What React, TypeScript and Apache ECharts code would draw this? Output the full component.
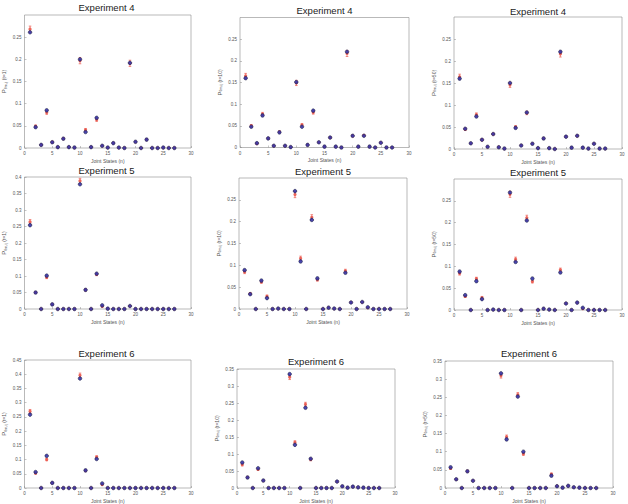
import React, { useEffect, useRef } from 'react';
import * as echarts from 'echarts';

// Joint states n = 1..27
const states = [1, 2, 3, 4, 5, 6, 7, 8, 9, 10, 11, 12, 13, 14, 15, 16, 17, 18, 19, 20, 21, 22, 23, 24, 25, 26, 27];

// Experiment 4, t=1
const e4t1Blue = [0.261, 0.047, 0.007, 0.085, 0.013, 0.002, 0.021, 0.002, 0.001, 0.200, 0.036, 0.002, 0.068, 0.005, 0.001, 0.011, 0.001, 0.000, 0.192, 0.014, 0.000, 0.019, 0.000, 0.000, 0.001, 0.000, 0.000];
const e4t1Red = [0.268, 0.049, 0.007, 0.080, 0.013, 0.002, 0.021, 0.002, 0.001, 0.197, 0.041, 0.002, 0.064, 0.005, 0.001, 0.011, 0.001, 0.000, 0.191, 0.014, 0.000, 0.019, 0.000, 0.000, 0.001, 0.000, 0.000];
const e4t1Err = [0.007, 0.003, 0.001, 0.004, 0.002, 0, 0.002, 0, 0, 0.007, 0.003, 0, 0.004, 0.001, 0, 0.001, 0, 0, 0.007, 0.001, 0, 0.002, 0, 0, 0, 0, 0];

// Experiment 4, t=10
const e4t10Blue = [0.160, 0.048, 0.010, 0.074, 0.021, 0.004, 0.035, 0.004, 0.001, 0.151, 0.048, 0.006, 0.085, 0.012, 0.002, 0.023, 0.002, 0.000, 0.221, 0.027, 0.002, 0.027, 0.002, 0.000, 0.011, 0.000, 0.000];
const e4t10Red = [0.165, 0.050, 0.009, 0.077, 0.021, 0.004, 0.036, 0.004, 0.001, 0.149, 0.052, 0.006, 0.081, 0.012, 0.002, 0.023, 0.002, 0.000, 0.217, 0.027, 0.002, 0.028, 0.002, 0.000, 0.011, 0.000, 0.000];
const e4t10Err = [0.006, 0.003, 0.002, 0.004, 0.002, 0, 0.002, 0, 0, 0.006, 0.003, 0, 0.004, 0.001, 0, 0.002, 0, 0, 0.007, 0.002, 0, 0.002, 0, 0, 0.001, 0, 0];

// Experiment 4, t=50
const e4t50Blue = [0.160, 0.046, 0.013, 0.074, 0.021, 0.005, 0.034, 0.004, 0.001, 0.150, 0.048, 0.008, 0.083, 0.012, 0.002, 0.024, 0.002, 0.000, 0.221, 0.028, 0.003, 0.030, 0.003, 0.001, 0.012, 0.001, 0.001];
const e4t50Red = [0.164, 0.045, 0.013, 0.078, 0.021, 0.005, 0.034, 0.004, 0.001, 0.146, 0.050, 0.008, 0.082, 0.012, 0.002, 0.024, 0.002, 0.000, 0.216, 0.028, 0.003, 0.030, 0.003, 0.001, 0.012, 0.001, 0.001];
const e4t50Err = [0.006, 0.003, 0.001, 0.004, 0.002, 0, 0.002, 0, 0, 0.006, 0.003, 0, 0.004, 0.001, 0, 0.002, 0, 0, 0.007, 0.002, 0, 0.002, 0, 0, 0.001, 0, 0];

// Experiment 5, t=1
const e5t1Blue = [0.254, 0.050, 0.000, 0.101, 0.014, 0.000, 0.000, 0.000, 0.000, 0.378, 0.058, 0.000, 0.107, 0.011, 0.001, 0.000, 0.000, 0.000, 0.009, 0.000, 0.000, 0.000, 0.000, 0.000, 0.000, 0.000, 0.000];
const e5t1Red = [0.264, 0.050, 0.000, 0.096, 0.014, 0.000, 0.000, 0.000, 0.000, 0.388, 0.058, 0.000, 0.105, 0.008, 0.001, 0.000, 0.000, 0.000, 0.009, 0.000, 0.000, 0.000, 0.000, 0.000, 0.000, 0.000, 0.000];
const e5t1Err = [0.007, 0.003, 0, 0.004, 0.001, 0, 0, 0, 0, 0.008, 0.003, 0, 0.004, 0.002, 0, 0, 0, 0, 0.001, 0, 0, 0, 0, 0, 0, 0, 0];

// Experiment 5, t=10
const e5t10Blue = [0.089, 0.034, 0.000, 0.065, 0.025, 0.000, 0.001, 0.000, 0.000, 0.270, 0.109, 0.000, 0.204, 0.070, 0.000, 0.003, 0.001, 0.000, 0.083, 0.015, 0.000, 0.016, 0.004, 0.000, 0.000, 0.000, 0.000];
const e5t10Red = [0.085, 0.035, 0.000, 0.062, 0.029, 0.000, 0.001, 0.000, 0.000, 0.262, 0.116, 0.000, 0.210, 0.067, 0.000, 0.003, 0.001, 0.000, 0.087, 0.015, 0.000, 0.016, 0.003, 0.000, 0.000, 0.000, 0.000];
const e5t10Err = [0.004, 0.002, 0, 0.003, 0.003, 0, 0, 0, 0, 0.007, 0.005, 0, 0.006, 0.003, 0, 0, 0, 0, 0.004, 0.001, 0, 0.001, 0.001, 0, 0, 0, 0];

// Experiment 5, t=50
const e5t50Blue = [0.088, 0.034, 0.000, 0.066, 0.025, 0.000, 0.001, 0.000, 0.000, 0.269, 0.110, 0.000, 0.205, 0.072, 0.000, 0.003, 0.001, 0.000, 0.086, 0.015, 0.000, 0.017, 0.005, 0.000, 0.000, 0.000, 0.000];
const e5t50Red = [0.084, 0.031, 0.000, 0.072, 0.028, 0.000, 0.001, 0.000, 0.000, 0.265, 0.116, 0.000, 0.211, 0.065, 0.000, 0.003, 0.001, 0.000, 0.092, 0.015, 0.000, 0.017, 0.003, 0.000, 0.000, 0.000, 0.000];
const e5t50Err = [0.004, 0.002, 0, 0.003, 0.003, 0, 0, 0, 0, 0.007, 0.005, 0, 0.006, 0.003, 0, 0, 0, 0, 0.004, 0.001, 0, 0.001, 0.001, 0, 0, 0, 0];

// Experiment 6, t=1
const e6t1Blue = [0.258, 0.056, 0.000, 0.113, 0.018, 0.000, 0.000, 0.000, 0.000, 0.385, 0.062, 0.000, 0.102, 0.016, 0.000, 0.000, 0.000, 0.000, 0.000, 0.000, 0.000, 0.000, 0.000, 0.000, 0.000, 0.000, 0.000];
const e6t1Red = [0.269, 0.052, 0.000, 0.100, 0.018, 0.000, 0.000, 0.000, 0.000, 0.396, 0.061, 0.000, 0.109, 0.012, 0.000, 0.000, 0.000, 0.000, 0.000, 0.000, 0.000, 0.000, 0.000, 0.000, 0.000, 0.000, 0.000];
const e6t1Err = [0.007, 0.003, 0, 0.004, 0.001, 0, 0, 0, 0, 0.008, 0.003, 0, 0.004, 0.002, 0, 0, 0, 0, 0, 0, 0, 0, 0, 0, 0, 0, 0];

// Experiment 6, t=10
const e6t10Blue = [0.075, 0.031, 0.000, 0.058, 0.022, 0.000, 0.000, 0.000, 0.000, 0.335, 0.127, 0.000, 0.236, 0.086, 0.000, 0.000, 0.000, 0.000, 0.019, 0.005, 0.001, 0.004, 0.002, 0.001, 0.000, 0.000, 0.000];
const e6t10Red = [0.069, 0.031, 0.000, 0.055, 0.022, 0.000, 0.000, 0.000, 0.000, 0.326, 0.134, 0.000, 0.246, 0.084, 0.000, 0.000, 0.000, 0.000, 0.019, 0.005, 0.001, 0.004, 0.002, 0.001, 0.000, 0.000, 0.000];
const e6t10Err = [0.004, 0.002, 0, 0.003, 0.001, 0, 0, 0, 0, 0.007, 0.005, 0, 0.006, 0.004, 0, 0, 0, 0, 0.002, 0, 0, 0, 0, 0, 0, 0, 0];

// Experiment 6, t=50
const e6t50Blue = [0.057, 0.024, 0.000, 0.046, 0.020, 0.000, 0.000, 0.000, 0.000, 0.316, 0.134, 0.000, 0.252, 0.100, 0.000, 0.000, 0.000, 0.000, 0.034, 0.005, 0.001, 0.006, 0.002, 0.001, 0.000, 0.000, 0.000];
const e6t50Red = [0.054, 0.024, 0.000, 0.046, 0.020, 0.000, 0.000, 0.000, 0.000, 0.310, 0.141, 0.000, 0.257, 0.094, 0.000, 0.000, 0.000, 0.000, 0.038, 0.005, 0.001, 0.006, 0.002, 0.001, 0.000, 0.000, 0.000];
const e6t50Err = [0.003, 0.002, 0, 0.003, 0.001, 0, 0, 0, 0, 0.007, 0.005, 0, 0.006, 0.004, 0, 0, 0, 0, 0.003, 0, 0, 0, 0, 0, 0, 0, 0];

const titles = ['Experiment 4', 'Experiment 4', 'Experiment 4', 'Experiment 5', 'Experiment 5', 'Experiment 5', 'Experiment 6', 'Experiment 6', 'Experiment 6'];
const timeLabels = ['t=1', 't=10', 't=50', 't=1', 't=10', 't=50', 't=1', 't=10', 't=50'];
const yMaxes = [0.3, 0.3, 0.3, 0.4, 0.3, 0.3, 0.45, 0.35, 0.35];
const showTopLabel = [false, false, false, true, false, false, true, true, true];
const xLabel = 'Joint States (n)';

const blueSets = [e4t1Blue, e4t10Blue, e4t50Blue, e5t1Blue, e5t10Blue, e5t50Blue, e6t1Blue, e6t10Blue, e6t50Blue];
const redSets = [e4t1Red, e4t10Red, e4t50Red, e5t1Red, e5t10Red, e5t50Red, e6t1Red, e6t10Red, e6t50Red];
const errSets = [e4t1Err, e4t10Err, e4t50Err, e5t1Err, e5t10Err, e5t50Err, e6t1Err, e6t10Err, e6t50Err];

// layout: [left, top, width, height, titleCenterY]
const layout = [
  [22, 15, 169, 133, 8],
  [240, 17.5, 169, 130, 11],
  [454, 17, 168, 132, 12],
  [22, 177, 169, 132, 171],
  [239, 178, 168, 131, 172],
  [454, 179, 168, 131, 173],
  [22, 360, 169, 133, 354],
  [237, 369, 158, 124, 362],
  [445, 361, 168, 132, 354],
];

const RED = '#ec5a4f';
const BLUE = '#3434a8';
const AX = '#8a8a8a';
const TXT = '#555';

export default function App() {
  const ref = useRef<HTMLDivElement>(null);
  useEffect(() => {
    document.body.style.margin = '0';
    if (!ref.current) return;
    const chart = echarts.init(ref.current, undefined, { renderer: 'svg' });

    const grids: any[] = [];
    const xAxes: any[] = [];
    const yAxes: any[] = [];
    const series: any[] = [];
    const title: any[] = [];

    layout.forEach((l, i) => {
      const [left, top, width, height, ty] = l;
      grids.push({ left, top, width, height, show: true, borderColor: AX, borderWidth: 0.6, backgroundColor: '#fff' });
      title.push({
        text: titles[i], left: left + width / 2, top: ty - 5.5, textAlign: 'center',
        textStyle: { fontSize: 9.5, fontWeight: 'normal', color: '#1a1a1a', fontFamily: 'Liberation Sans, Arial, sans-serif' },
        padding: 0,
      });
      xAxes.push({
        gridIndex: i, type: 'value', min: 0, max: 30, interval: 5,
        name: xLabel, nameLocation: 'middle', nameGap: 10,
        nameTextStyle: { fontSize: 5, color: TXT, fontFamily: 'Liberation Sans, Arial, sans-serif' },
        axisLine: { show: false },
        axisTick: { show: true, inside: true, length: 2, lineStyle: { color: AX, width: 0.5 } },
        axisLabel: { fontSize: 4.5, color: TXT, margin: 3, fontFamily: 'Liberation Sans, Arial, sans-serif' },
        splitLine: { show: false },
      });
      yAxes.push({
        gridIndex: i, type: 'value', min: 0, max: yMaxes[i], interval: 0.05,
        name: '{p|P}{s|θm,ij}{t| (' + timeLabels[i] + ')}',
        nameLocation: 'middle', nameGap: 17, nameRotate: 90,
        nameTextStyle: {
          color: TXT, fontFamily: 'Liberation Sans, Arial, sans-serif',
          rich: {
            p: { fontSize: 6, color: TXT },
            s: { fontSize: 3.6, color: TXT, verticalAlign: 'bottom', padding: [3, 0, 0, 0] },
            t: { fontSize: 5, color: TXT },
          },
        },
        axisLine: { show: false },
        axisTick: { show: true, inside: true, length: 2, lineStyle: { color: AX, width: 0.5 } },
        axisLabel: {
          fontSize: 4.5, color: TXT, margin: 3, showMaxLabel: showTopLabel[i],
          fontFamily: 'Liberation Sans, Arial, sans-serif',
        },
        splitLine: { show: false },
      });

      const red = redSets[i];
      const err = errSets[i];
      const blue = blueSets[i];

      series.push({
        type: 'custom', xAxisIndex: i, yAxisIndex: i, silent: true,
        data: states.map((n, k) => [n, red[k] - err[k], red[k] + err[k]]),
        encode: { x: 0, y: [1, 2] },
        renderItem: (params: any, api: any) => {
          const x = api.value(0);
          const lo = api.value(1);
          const hi = api.value(2);
          if (hi - lo < 0.003) return null;
          const p1 = api.coord([x, lo]);
          const p2 = api.coord([x, hi]);
          const w = 1.3;
          const st = { stroke: RED, lineWidth: 0.7 };
          return {
            type: 'group',
            children: [
              { type: 'line', shape: { x1: p1[0], y1: p1[1], x2: p2[0], y2: p2[1] }, style: st },
              { type: 'line', shape: { x1: p1[0] - w, y1: p1[1], x2: p1[0] + w, y2: p1[1] }, style: st },
              { type: 'line', shape: { x1: p2[0] - w, y1: p2[1], x2: p2[0] + w, y2: p2[1] }, style: st },
            ],
          };
        },
        z: 2,
      });
      series.push({
        type: 'scatter', xAxisIndex: i, yAxisIndex: i, silent: true,
        data: states.map((n, k) => [n, red[k]]),
        symbol: 'circle', symbolSize: 3.2,
        itemStyle: { color: RED, opacity: 0.9 },
        z: 3,
      });
      series.push({
        type: 'scatter', xAxisIndex: i, yAxisIndex: i, silent: true,
        data: states.map((n, k) => [n, blue[k]]),
        symbol: 'circle', symbolSize: 3.6,
        itemStyle: { color: BLUE, borderColor: '#1c1c3c', borderWidth: 0.6, opacity: 0.9 },
        z: 4,
      });
    });

    chart.setOption({
      animation: false,
      backgroundColor: '#fff',
      title,
      grid: grids,
      xAxis: xAxes,
      yAxis: yAxes,
      series,
    });
    return () => chart.dispose();
  }, []);
  return <div ref={ref} style={{ width: 628, height: 504 }} />;
}
